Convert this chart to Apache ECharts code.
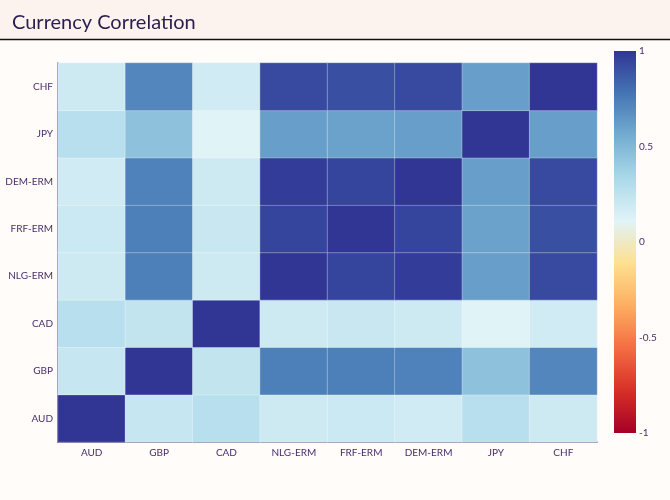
<!DOCTYPE html>
<html>
<head>
<meta charset="utf-8">
<script src="https://cdn.jsdelivr.net/npm/echarts@6/dist/echarts.min.js"></script>
<style>
  html, body { margin:0; padding:0; background:#fffcf9; }
  #chart { width:670px; height:500px; }
</style>
</head>
<body>
<div id="chart"></div>
<script>
const currencies = ['AUD','GBP','CAD','NLG-ERM','FRF-ERM','DEM-ERM','JPY','CHF'];
// correlation rows, columns in the same order as currencies
const rowAUD = [1.00, 0.22, 0.28, 0.19, 0.20, 0.18, 0.28, 0.19];
const rowGBP = [0.22, 1.00, 0.24, 0.74, 0.74, 0.73, 0.45, 0.71];
const rowCAD = [0.28, 0.24, 1.00, 0.19, 0.21, 0.19, 0.11, 0.18];
const rowNLG = [0.19, 0.74, 0.19, 1.00, 0.95, 0.98, 0.61, 0.93];
const rowFRF = [0.20, 0.74, 0.21, 0.95, 1.00, 0.95, 0.60, 0.91];
const rowDEM = [0.18, 0.73, 0.19, 0.98, 0.95, 1.00, 0.61, 0.93];
const rowJPY = [0.28, 0.45, 0.11, 0.61, 0.60, 0.61, 1.00, 0.61];
const rowCHF = [0.19, 0.71, 0.18, 0.93, 0.91, 0.93, 0.61, 1.00];
const matrixRows = [rowAUD, rowGBP, rowCAD, rowNLG, rowFRF, rowDEM, rowJPY, rowCHF];
const colorscale = ['#a50026','#d73027','#f46d43','#fdae61','#fee090','#e0f3f8','#abd9e9','#74add1','#4575b4','#313695'];
const zMin = -1, zMax = 1;
const colorbarTicks = [-1, -0.5, 0, 0.5, 1];

const data = [];
matrixRows.forEach((row, yi) => row.forEach((v, xi) => data.push([xi, yi, v])));

const cb = { x: 614, y: 51, w: 22, h: 382 };
const gradStops = colorscale.map((c, i) => ({ offset: 1 - i / (colorscale.length - 1), color: c }));

const labelColor = '#4a2d6b';
const font = 'Lato, "Open Sans", sans-serif';
const chart = echarts.init(document.getElementById('chart'));
chart.setOption({
  backgroundColor: '#fffcf9',
  animation: false,
  title: {
    text: 'Currency Correlation', left: 7, top: 8,
    textStyle: { color: '#2b1d4f', fontSize: 20, fontWeight: 'normal', fontFamily: font }
  },
  graphic: [
    { type: 'rect', z: -1, shape: { x: 0, y: 0, width: 670, height: 39 }, style: { fill: '#fdf3ee' } },
    { type: 'line', shape: { x1: 0, y1: 39.5, x2: 670, y2: 39.5 }, style: { stroke: '#111', lineWidth: 1.5 } },
    { type: 'rect', shape: { x: cb.x, y: cb.y, width: cb.w, height: cb.h },
      style: { fill: new echarts.graphic.LinearGradient(0, 0, 0, 1, gradStops) } }
  ],
  grid: [
    { left: 58, right: 73, top: 63, bottom: 58 },
    { left: cb.x, width: cb.w, top: cb.y, height: cb.h }
  ],
  xAxis: [
    { type: 'category', data: currencies, gridIndex: 0,
      axisLine: { lineStyle: { color: '#5b3a7d', width: 1.5 } },
      axisTick: { show: false }, splitLine: { show: false },
      axisLabel: { color: labelColor, fontSize: 10, fontFamily: font, margin: 6 } },
    { type: 'value', gridIndex: 1, show: false }
  ],
  yAxis: [
    { type: 'category', data: currencies, gridIndex: 0,
      axisLine: { lineStyle: { color: '#5b3a7d', width: 1.5 } },
      axisTick: { show: false }, splitLine: { show: false },
      axisLabel: { color: labelColor, fontSize: 10, fontFamily: font, margin: 5 } },
    { type: 'value', gridIndex: 1, position: 'right', min: zMin, max: zMax, interval: 0.5,
      axisLine: { show: false }, axisTick: { show: false }, splitLine: { show: false },
      axisLabel: { color: labelColor, fontSize: 10, fontFamily: font, margin: 3,
        formatter: v => colorbarTicks.includes(v) ? String(v) : '' } }
  ],
  visualMap: {
    type: 'continuous', min: zMin, max: zMax, show: false, seriesIndex: 0,
    inRange: { color: colorscale }
  },
  series: [{
    type: 'heatmap', data: data, xAxisIndex: 0, yAxisIndex: 0,
    itemStyle: { borderColor: 'rgba(255,255,255,0.3)', borderWidth: 1 },
    emphasis: { disabled: true }
  }, {
    type: 'scatter', xAxisIndex: 1, yAxisIndex: 1, data: [], silent: true
  }]
});
</script>
</body>
</html>
